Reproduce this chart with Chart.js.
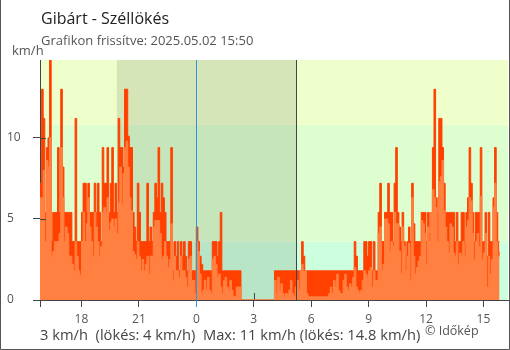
<!DOCTYPE html>
<html>
<head>
<meta charset="utf-8">
<script src="https://cdn.jsdelivr.net/npm/chart.js@4.4.1/dist/chart.umd.min.js"></script>
<style>
body { margin: 0; background: #fff; }
#wrap { position: relative; width: 510px; height: 350px; font-family: 'Open Sans', sans-serif; }
#wrap canvas { position: absolute; left: 0; top: 0; }
.t { position: absolute; white-space: pre; line-height: 1; }
</style>
</head>
<body>
<div id="wrap">
	<canvas id="chart" width="510" height="350"></canvas>
	<div class="t" style="left:41px;top:10px;font-size:16px;color:#222">Gibárt - Széllökés</div>
	<div class="t" style="left:41px;top:33.5px;font-size:13px;color:#555">Grafikon frissítve: 2025.05.02 15:50</div>
	<div class="t" style="left:12px;top:43.5px;font-size:13px;color:#555">km/h</div>
	<div class="t" style="left:40px;top:326.5px;font-size:14.7px;color:#444">3 km/h  (lökés: 4 km/h)  Max: 11 km/h (lökés: 14.8 km/h)</div>
	<div class="t" style="left:425px;top:324.5px;font-size:12.5px;color:#555">© Időkép</div>
</div>
<script>
// 5 perces minták, 15:50-tól
var startTime = "15:50";
var stepMinutes = 5;

var gust = [
	7.2, 13.0, 11.2, 5.4, 9.4, 10.0, 14.8, 3.6, 5.4, 5.4,
	5.4, 9.4, 5.4, 13.0, 8.2, 5.4, 5.4, 5.4, 5.4, 5.4,
	3.6, 3.6, 11.2, 3.6, 3.6, 3.6, 5.4, 7.2, 7.2, 5.4,
	7.2, 5.4, 5.4, 5.4, 7.2, 5.4, 7.2, 5.4, 3.6, 9.4,
	7.2, 7.2, 9.4, 5.4, 7.2, 9.4, 5.4, 7.2, 5.4, 11.2,
	9.4, 9.4, 8.2, 13.0, 13.0, 10.1, 9.4, 9.4, 5.4, 4.5,
	3.6, 7.2, 5.4, 3.6, 3.6, 3.6, 3.6, 7.2, 3.6, 4.5,
	3.6, 5.4, 7.2, 6.3, 9.4, 5.4, 7.2, 6.3, 5.4, 3.6,
	3.6, 3.6, 9.4, 1.8, 3.6, 2.7, 3.6, 1.8, 3.6, 2.7,
	3.6, 2.7, 1.8, 3.6, 3.6, 1.8, 1.8, 1.8, 4.5, 3.6,
	2.7, 2.2, 1.8, 1.8, 1.8, 1.8, 1.8, 1.8, 3.6, 3.6,
	3.6, 2.7, 3.6, 5.4, 1.8, 1.8, 1.8, 1.8, 1.8, 1.8,
	1.8, 1.8, 1.8, 1.8, 1.8, 1.8, 0, 0, 0, 0,
	0, 0, 0, 0, 0, 0, 0, 0, 0, 0,
	0, 0, 0, 0, 0, 0, 0, 1.8, 1.8, 1.8,
	1.8, 1.8, 1.8, 1.8, 1.8, 1.8, 1.8, 1.8, 1.8, 1.8,
	1.8, 1.8, 1.8, 1.8, 3.6, 2.7, 1.8, 1.8, 1.8, 1.8,
	1.8, 1.8, 1.8, 1.8, 1.8, 1.8, 1.8, 1.8, 1.8, 1.8,
	1.8, 1.8, 1.8, 1.8, 1.8, 1.8, 1.8, 1.8, 1.8, 1.8,
	1.8, 1.8, 1.8, 1.8, 1.8, 1.8, 1.8, 3.6, 2.7, 1.8,
	1.8, 1.8, 1.8, 3.6, 3.6, 2.7, 3.6, 3.6, 1.8, 3.6,
	1.8, 1.8, 5.4, 7.2, 3.6, 3.6, 5.4, 5.4, 7.2, 5.4,
	5.4, 3.6, 7.2, 9.4, 5.4, 4.5, 3.6, 5.4, 3.6, 2.7,
	3.6, 4.5, 3.6, 7.2, 4.7, 3.6, 3.6, 3.6, 3.6, 5.4,
	5.4, 5.4, 3.6, 5.4, 4.1, 5.4, 9.4, 13.0, 6.3, 5.4,
	11.2, 11.2, 9.4, 7.2, 5.4, 5.4, 5.4, 5.4, 5.4, 5.4,
	3.6, 5.4, 3.6, 3.6, 5.4, 5.4, 3.6, 5.4, 6.3, 9.4,
	7.2, 5.4, 3.6, 5.4, 5.4, 5.4, 9.4, 3.6, 3.6, 5.4,
	2.7, 5.4, 3.6, 3.6, 6.3, 9.4, 5.4, 3.6, 3.6
];

var wind = [
	6.3, 6.3, 8.0, 3.6, 8.6, 8.2, 10.0, 2.7, 3.0, 3.6,
	3.6, 3.6, 4.1, 9.4, 6.3, 3.6, 4.5, 4.1, 2.7, 2.7,
	2.2, 1.8, 3.6, 2.7, 1.8, 1.5, 3.6, 5.4, 3.6, 4.7,
	6.3, 4.5, 3.6, 2.7, 5.4, 4.5, 3.6, 2.7, 3.3, 5.4,
	5.7, 5.4, 6.3, 4.3, 4.8, 5.0, 4.5, 5.0, 4.1, 6.0,
	8.2, 5.9, 7.8, 9.4, 9.8, 8.2, 6.3, 5.5, 3.0, 2.8,
	2.5, 3.6, 2.7, 1.8, 2.5, 1.8, 2.2, 2.7, 1.6, 2.7,
	2.7, 4.5, 4.9, 4.9, 4.9, 4.1, 2.5, 2.7, 3.6, 2.7,
	2.0, 2.5, 4.7, 1.2, 2.7, 1.8, 1.8, 1.4, 2.7, 1.8,
	1.8, 1.4, 0.8, 2.5, 2.7, 1.2, 1.2, 0.4, 3.6, 3.0,
	1.6, 0.4, 0.6, 1.2, 0.6, 1.4, 0.6, 0.4, 2.5, 2.7,
	2.2, 1.4, 1.6, 0.8, 0.4, 1.2, 1.4, 0.8, 0.6, 1.2,
	0.6, 0.2, 0.2, 0.8, 0.8, 0.8, 0, 0, 0, 0,
	0, 0, 0, 0, 0, 0, 0, 0, 0, 0,
	0, 0, 0, 0, 0, 0, 0, 1.2, 0.4, 1.4,
	0.6, 1.0, 0.4, 0.2, 0.4, 0.3, 0.6, 1.2, 0.4, 0.2,
	0.8, 1.2, 0.6, 1.8, 2.2, 1.8, 1.8, 0.4, 0.2, 0.2,
	0.2, 0.2, 0.2, 0.2, 0.2, 0.2, 0.2, 0.2, 0.2, 0.2,
	0.2, 0.4, 0.8, 0.4, 1.2, 0.8, 1.6, 0.6, 0.4, 0.4,
	1.2, 1.6, 0.8, 0.6, 1.0, 0.8, 1.4, 2.0, 0.8, 0.6,
	0.4, 0.6, 1.2, 1.8, 1.6, 1.4, 1.8, 2.0, 0.8, 1.8,
	1.2, 1.2, 4.1, 4.5, 1.8, 2.2, 5.0, 5.0, 4.7, 3.0,
	3.6, 3.3, 5.4, 4.7, 4.7, 3.0, 1.6, 4.5, 3.3, 1.8,
	2.7, 3.5, 1.2, 6.3, 2.7, 1.6, 2.0, 2.4, 2.7, 4.9,
	4.7, 4.1, 2.2, 4.5, 3.6, 5.4, 6.8, 6.3, 5.7, 3.6,
	7.3, 7.6, 8.6, 5.5, 4.5, 3.6, 2.9, 4.7, 4.5, 2.9,
	2.7, 3.6, 2.2, 2.9, 2.7, 3.6, 2.7, 4.5, 4.9, 6.3,
	6.1, 4.1, 2.5, 3.6, 4.1, 3.3, 6.4, 2.5, 2.9, 4.1,
	0.8, 2.7, 1.6, 2.5, 5.7, 7.2, 3.6, 2.7, 3.0
];

var bandLimits = [3.6, 10.8];
var nightStart = "19:51";
var nightEnd = "05:14";
var axisEnd = "16:17";

// ora a grafikon napjanak ejfelehez kepest (elozo nap negativ)
function hourOf(t) {
	var p = t.split(":");
	var h = parseInt(p[0], 10) + parseInt(p[1], 10) / 60;
	return h >= 12 ? h - 24 : h;
}

var t0 = hourOf(startTime);

function toPoints(arr) {
	var out = [];
	for (var i = 0; i < arr.length; i++) {
		out.push({ x: t0 + i * stepMinutes / 60, y: arr[i] });
	}
	return out;
}

var bgPlugin = {
	id: "bg",
	beforeDraw: function(chart) {
		var ctx = chart.ctx, a = chart.chartArea, x = chart.scales.x, y = chart.scales.y;
		var yLo = y.getPixelForValue(bandLimits[0]);
		var yHi = y.getPixelForValue(bandLimits[1]);
		ctx.save();
		ctx.fillStyle = "#ccffdd";
		ctx.fillRect(a.left, yLo, a.right - a.left, a.bottom - yLo);
		ctx.fillStyle = "#ddffd0";
		ctx.fillRect(a.left, yHi, a.right - a.left, yLo - yHi);
		ctx.fillStyle = "#efffcc";
		ctx.fillRect(a.left, a.top, a.right - a.left, yHi - a.top);
		var n0 = x.getPixelForValue(hourOf(nightStart));
		var n1 = x.getPixelForValue(hourOf(nightEnd));
		ctx.fillStyle = "rgba(0,0,0,0.1)";
		ctx.fillRect(n0, a.top, n1 - n0, a.bottom - a.top);
		ctx.restore();
	},
	beforeDatasetsDraw: function(chart) {
		var ctx = chart.ctx, a = chart.chartArea, x = chart.scales.x;
		ctx.save();
		ctx.strokeStyle = "#444";
		ctx.lineWidth = 1;
		x.ticks.forEach(function(t) {
			var px = Math.round(x.getPixelForValue(t.value)) + 0.5;
			ctx.beginPath();
			ctx.moveTo(px, a.bottom - 7);
			ctx.lineTo(px, a.bottom);
			ctx.stroke();
		});
		ctx.restore();
	},
	afterDatasetsDraw: function(chart) {
		var ctx = chart.ctx, a = chart.chartArea, x = chart.scales.x, y = chart.scales.y;
		ctx.save();
		ctx.lineWidth = 1;
		// ejfel
		var m = Math.round(x.getPixelForValue(0)) + 0.5;
		ctx.strokeStyle = "#2a96dc";
		ctx.beginPath();
		ctx.moveTo(m, a.top);
		ctx.lineTo(m, a.bottom + 7);
		ctx.stroke();
		// napkelte
		var s = Math.round(x.getPixelForValue(hourOf(nightEnd))) + 0.5;
		ctx.strokeStyle = "#444";
		ctx.beginPath();
		ctx.moveTo(s, a.top);
		ctx.lineTo(s, a.bottom);
		ctx.stroke();
		// y tengely belso jelolok
		y.ticks.forEach(function(t) {
			var py = Math.round(y.getPixelForValue(t.value)) + 0.5;
			ctx.beginPath();
			ctx.moveTo(a.left, py);
			ctx.lineTo(a.left + 6, py);
			ctx.stroke();
		});
		// bal also jelolo
		ctx.beginPath();
		ctx.moveTo(a.left + 0.5, a.bottom);
		ctx.lineTo(a.left + 0.5, a.bottom + 7);
		ctx.stroke();
		ctx.restore();
	},
	afterDraw: function(chart) {
		var ctx = chart.ctx;
		ctx.save();
		ctx.strokeStyle = "#555";
		ctx.lineWidth = 1;
		ctx.beginPath();
		ctx.moveTo(0.5, 0);
		ctx.lineTo(0.5, 349.5);
		ctx.lineTo(509.5, 349.5);
		ctx.lineTo(509.5, 0);
		ctx.stroke();
		ctx.restore();
	}
};

var tickFont = { family: "'Open Sans', sans-serif", size: 12 };

var chart = new Chart(document.getElementById("chart"), {
	type: "line",
	data: {
		datasets: [
			{
				label: "Szél",
				data: toPoints(wind),
				borderColor: "#ff8040",
				backgroundColor: "#ff8040",
				borderWidth: 1,
				fill: "origin",
				stepped: true,
				pointRadius: 0
			},
			{
				label: "Széllökés",
				data: toPoints(gust),
				borderColor: "#ff4000",
				backgroundColor: "#ff4000",
				borderWidth: 1,
				fill: "origin",
				stepped: true,
				pointRadius: 0
			}
		]
	},
	options: {
		responsive: false,
		animation: false,
		devicePixelRatio: 1,
		layout: { padding: { left: 7, top: 60, right: 2, bottom: 0 } },
		plugins: {
			legend: { display: false },
			tooltip: { enabled: false }
		},
		scales: {
			x: {
				type: "linear",
				min: t0,
				max: hourOf(axisEnd) + 24,
				afterFit: function(s) { s.height = 50; },
				ticks: {
					stepSize: 3,
					includeBounds: false,
					autoSkip: false,
					maxRotation: 0,
					color: "#555",
					font: tickFont,
					padding: 5,
					callback: function(v) {
						return ((v % 24) + 24) % 24;
					}
				},
				grid: {
					drawOnChartArea: false,
					tickLength: 7,
					color: function(c) {
						return c.tick && c.tick.value === 0 ? "#2a96dc" : "#444";
					}
				},
				border: { color: "#444" }
			},
			y: {
				min: 0,
				max: 14.8,
				afterFit: function(s) { s.width = 33; },
				ticks: {
					stepSize: 5,
					includeBounds: false,
					crossAlign: "far",
					color: "#555",
					font: tickFont
				},
				grid: {
					drawOnChartArea: false,
					tickLength: 7,
					color: "#444"
				},
				border: { color: "#444" }
			}
		}
	},
	plugins: [bgPlugin]
});
</script>
</body>
</html>
